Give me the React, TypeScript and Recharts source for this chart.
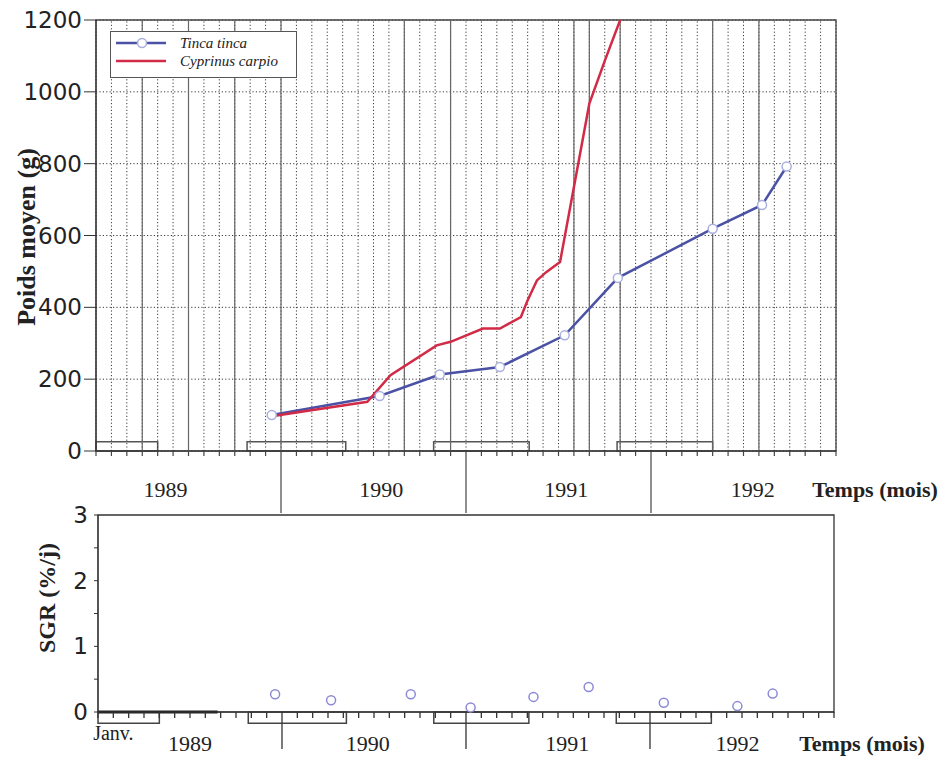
import React from "react";
import {
  ComposedChart,
  Line,
  Scatter,
  XAxis,
  YAxis,
  CartesianGrid,
  ReferenceLine,
  ReferenceArea,
  Legend,
} from "recharts";

// months since Jan 1989 (0..48)
const monthTicks = Array.from({ length: 49 }, (_, i) => i);
const solidMonths = [3, 6, 9, 12, 20, 23, 31, 32, 34, 40, 43];
const weightTicks = [0, 200, 400, 600, 800, 1000, 1200];
const sgrTicks = [0, 0.5, 1, 1.5, 2, 2.5, 3];

const years = ["1989", "1990", "1991", "1992"];
const topYearPos = [4.5, 18.5, 30.5, 42.6];
const yearBreaks = [12, 24, 36];
const bottomLabels = ["Janv.", "1989", "1990", "1991", "1992"];
const bottomLabelPos = [1.0, 6.0, 17.6, 30.6, 41.7];

// winter bars
const winterStart = [0, 9.8, 21.9, 33.8];
const winterEnd = [4, 16.2, 28.1, 40];

const seriesNames = ["Tinca tinca", "Cyprinus carpio"];

// Tinca tinca
const tincaMonths = [11.4, 18.4, 22.3, 26.2, 30.4, 33.85, 40.0, 43.2, 44.8];
const tincaWeight = [100, 153, 213, 234, 322, 482, 619, 685, 792];

// Cyprinus carpio
const carpioMonths = [11.4, 17.6, 19.1, 22.1, 23.0, 25.1, 26.2, 27.56, 28.0, 28.6, 29.2, 30.1, 32.0, 33.0, 34.0];
const carpioWeight = [97, 137, 211, 294, 304, 341, 341, 373, 420, 475, 498, 526, 967, 1086, 1200];

// SGR Tinca tinca
const sgrMonths = [11.55, 15.2, 20.4, 24.3, 28.4, 32.0, 36.9, 41.7, 44.0];
const sgrValues = [0.27, 0.18, 0.27, 0.07, 0.23, 0.38, 0.14, 0.09, 0.28];

const tincaData = tincaMonths.map((m, i) => ({ m, w: tincaWeight[i] }));
const carpioData = carpioMonths.map((m, i) => ({ m, w: carpioWeight[i] }));
const sgrData = sgrMonths.map((m, i) => ({ m, s: sgrValues[i] }));

const merge = (a: number[], b: number[]) => Array.from(new Set([...a, ...b])).sort((p, q) => p - q);
const topAxisTicks = merge(monthTicks, topYearPos);
const bottomAxisTicks = merge(monthTicks, bottomLabelPos);

const BLUE = "#4b52a6";
const RED = "#d22b47";
const INK = "#222";
const DOTS = "#3a3a3a";
const SERIF = "'Liberation Serif', 'Times New Roman', serif";
const SANS = "'DejaVu Sans', Verdana, sans-serif";

const LegendBox = ({ payload }: any) => (
  <div
    style={{
      width: 187,
      height: 47,
      boxSizing: "border-box",
      border: "1.5px solid #555",
      background: "#fff",
      position: "relative",
      fontFamily: SERIF,
      fontStyle: "italic",
      fontSize: 15,
      color: INK,
    }}
  >
    {seriesNames.map((name, i) => {
      const item = (payload || []).find((p: any) => p.value === name);
      return (
        <div key={name} style={{ position: "absolute", left: 0, top: 2 + i * 18, height: 18, width: 185 }}>
          <svg width={60} height={18} style={{ position: "absolute", left: 3, top: 0 }}>
            <line x1={2} x2={52} y1={9} y2={9} stroke={item ? item.color : INK} strokeWidth={2.5} />
            {i === 0 && <circle cx={28} cy={9} r={4.5} fill="#fff" stroke="#a9b0e0" strokeWidth={1.5} />}
          </svg>
          <span style={{ position: "absolute", left: 69, top: 0, lineHeight: "18px" }}>{name}</span>
        </div>
      );
    })}
  </div>
);

// month tick marks, year separators and year labels on the top time axis
const TopTick = ({ x, payload }: any) => {
  const v = payload.value;
  const yi = topYearPos.indexOf(v);
  return (
    <g>
      {Number.isInteger(v) && (
        <line x1={x} x2={x} y1={451} y2={yearBreaks.includes(v) ? 513 : 456} stroke="#444" strokeWidth={1.2} />
      )}
      {yi >= 0 && (
        <text x={x} y={497} textAnchor="middle" fontFamily={SERIF} fontSize={22} fill={INK}>
          {years[yi]}
        </text>
      )}
    </g>
  );
};

const BottomTick = ({ x, payload }: any) => {
  const v = payload.value;
  const li = bottomLabelPos.indexOf(v);
  return (
    <g>
      {Number.isInteger(v) && (
        <line x1={x} x2={x} y1={212} y2={yearBreaks.includes(v) ? 249 : 218} stroke="#333" strokeWidth={1.3} />
      )}
      {li >= 0 && (
        <text
          x={x}
          y={li === 0 ? 240 : 251}
          textAnchor="middle"
          fontFamily={SERIF}
          fontSize={li === 0 ? 20 : 22}
          fill={INK}
        >
          {bottomLabels[li]}
        </text>
      )}
    </g>
  );
};

export default function App() {
  return (
    <div style={{ position: "absolute", left: 0, top: 0, width: 951, height: 760, background: "#fff" }}>
      <div style={{ position: "absolute", left: 0, top: 0 }}>
        <ComposedChart width={951} height={515} margin={{ top: 20, right: 115, bottom: 63, left: 0 }}>
          <CartesianGrid vertical={false} stroke={DOTS} strokeDasharray="1.2 2.2" />
          {monthTicks.map((m) => (
            <ReferenceLine key={"d" + m} x={m} stroke={DOTS} strokeDasharray="1.2 2.2" />
          ))}
          {solidMonths.map((m) => (
            <ReferenceLine key={"s" + m} x={m} stroke="#666" strokeWidth={1.2} />
          ))}
          {winterStart.map((s, i) => (
            <ReferenceArea key={s} x1={s} x2={winterEnd[i]} y1={0} y2={26} fill="none" stroke="#555" strokeWidth={1.5} />
          ))}
          <ReferenceArea x1={0} x2={48} y1={0} y2={1200} fill="none" stroke="#444" strokeWidth={1.3} />
          <XAxis
            dataKey="m"
            type="number"
            domain={[0, 48]}
            ticks={topAxisTicks}
            interval={0}
            allowDataOverflow
            height={1}
            tickLine={false}
            tick={TopTick}
            stroke="#333"
            label={{
              content: () => (
                <text x={875} y={497} textAnchor="middle" fontFamily={SERIF} fontWeight="bold" fontSize={22} fill={INK}>
                  Temps (mois)
                </text>
              ),
            }}
          />
          <YAxis
            type="number"
            domain={[0, 1200]}
            ticks={weightTicks}
            allowDataOverflow
            width={96}
            tickSize={12}
            tickMargin={2}
            stroke="#333"
            tick={{ fill: INK, fontSize: 23, fontFamily: SANS }}
            label={{
              content: () => (
                <text
                  x={26}
                  y={237}
                  transform="rotate(-90 26 237)"
                  textAnchor="middle"
                  dominantBaseline="central"
                  fontFamily={SERIF}
                  fontWeight="bold"
                  fontSize={26}
                  fill={INK}
                >
                  Poids moyen (g)
                </text>
              ),
            }}
          />
          <Legend
            layout="vertical"
            align="center"
            verticalAlign="middle"
            wrapperStyle={{ left: 110, top: 31, width: 187, height: 47 }}
            content={LegendBox}
          />
          <Line
            name="Tinca tinca"
            data={tincaData}
            dataKey="w"
            stroke={BLUE}
            strokeWidth={2.5}
            dot={{ r: 4.5, fill: "#fff", stroke: "#a9b0e0", strokeWidth: 1.5 }}
            isAnimationActive={false}
          />
          <Line
            name="Cyprinus carpio"
            data={carpioData}
            dataKey="w"
            stroke={RED}
            strokeWidth={2.5}
            dot={false}
            isAnimationActive={false}
          />
        </ComposedChart>
      </div>

      <div style={{ position: "absolute", left: 0, top: 500 }}>
        <ComposedChart width={951} height={260} margin={{ top: 15, right: 117, bottom: 47, left: 0 }}>
          <ReferenceArea x1={0} x2={48} y1={0} y2={3} fill="none" stroke="#333" strokeWidth={1.3} />
          {winterStart.map((s, i) => (
            <ReferenceArea
              key={s}
              x1={s}
              x2={winterEnd[i]}
              y1={-0.17}
              y2={0}
              ifOverflow="visible"
              fill="none"
              stroke="#444"
              strokeWidth={1.5}
            />
          ))}
          <ReferenceLine
            segment={[
              { x: 0, y: 0 },
              { x: 7.8, y: 0 },
            ]}
            stroke="#222"
            strokeWidth={3}
          />
          <XAxis
            dataKey="m"
            type="number"
            domain={[0, 48]}
            ticks={bottomAxisTicks}
            interval={0}
            height={1}
            tickLine={false}
            tick={BottomTick}
            stroke="#333"
            label={{
              content: () => (
                <text x={862} y={251} textAnchor="middle" fontFamily={SERIF} fontWeight="bold" fontSize={22} fill={INK}>
                  Temps (mois)
                </text>
              ),
            }}
          />
          <YAxis
            dataKey="s"
            type="number"
            domain={[0, 3]}
            ticks={sgrTicks}
            width={98}
            tickSize={4}
            tickMargin={6}
            stroke="#333"
            tickFormatter={(v: number) => (Number.isInteger(v) ? String(v) : "")}
            tick={{ fill: INK, fontSize: 23, fontFamily: SANS }}
            label={{
              content: () => (
                <text
                  x={47}
                  y={98}
                  transform="rotate(-90 47 98)"
                  textAnchor="middle"
                  dominantBaseline="central"
                  fontFamily={SERIF}
                  fontWeight="bold"
                  fontSize={24}
                  fill={INK}
                >
                  SGR (%/j)
                </text>
              ),
            }}
          />
          <Scatter
            data={sgrData}
            dataKey="s"
            isAnimationActive={false}
            shape={(p: any) => <circle cx={p.cx} cy={p.cy} r={4.5} fill="#fff" stroke="#8c8ad6" strokeWidth={1.5} />}
          />
        </ComposedChart>
      </div>
    </div>
  );
}
